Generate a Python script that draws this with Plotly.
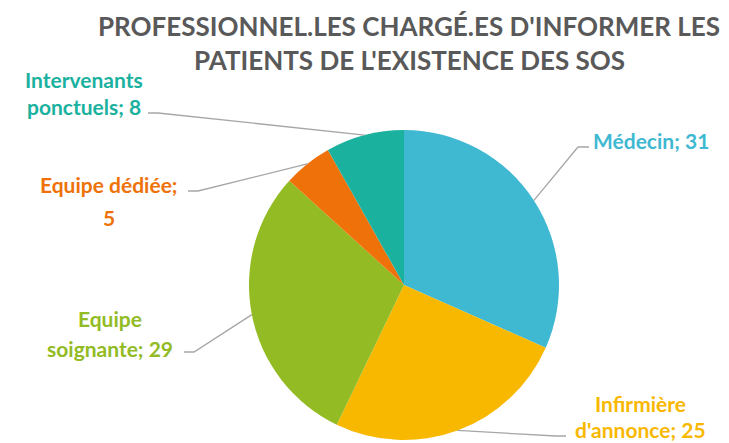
import math
import plotly.graph_objects as go

# ---- data ----
categories = ["Médecin", "Infirmière d'annonce", "Equipe soignante", "Equipe dédiée", "Intervenants ponctuels"]
values = [31, 25, 29, 5, 8]
colors = ["#3FB8D2", "#F9B800", "#92BB24", "#EE7209", "#1BB19F"]
title_lines = ["PROFESSIONNEL.LES CHARGÉ.ES D'INFORMER LES", "PATIENTS DE L'EXISTENCE DES SOS"]

# ---- layout (pixels) ----
W, H = 729, 443
CX, CY, R = 404, 285, 155
FONT = "Lato"

# label line splits (where the text breaks) and positions of each line
label_breaks = [None, "Infirmière|d'annonce; {v}", "Equipe|soignante; {v}", "Equipe dédiée;|{v}", "Intervenants|ponctuels; {v}"]
label_pos = [
    [(651, 141)],
    [(640, 403), (640, 429)],
    [(110, 318), (110, 348)],
    [(109, 184), (109, 217)],
    [(84, 80), (84, 107)],
]
# leader line: elbow point then end point (near label)
leader_pts = [
    [(578, 147), (589, 147)],
    [(556, 436), (566, 436)],
    [(194, 352), (184, 352)],
    [(198, 191), (188, 191)],
    [(158, 113), (148, 113)],
]

def px(x):
    return x / W

def py(y):
    return 1 - y / H

fig = go.Figure()
fig.add_trace(go.Pie(
    values=values, labels=categories,
    marker=dict(colors=colors, line=dict(width=0)),
    sort=False, direction="clockwise", rotation=0,
    textinfo="none", hoverinfo="label+value", showlegend=False,
    domain=dict(x=[px(CX - R), px(CX + R)], y=[py(CY + R), py(CY - R)]),
))

total = sum(values)
annotations = []
shapes = []
cum = 0
for i, (cat, v) in enumerate(zip(categories, values)):
    mid = (cum + v / 2) / total * 2 * math.pi
    cum += v
    ex = CX + R * math.sin(mid)
    ey = CY - R * math.cos(mid)
    pts = [(ex, ey)] + leader_pts[i]
    path = "M " + " L ".join(f"{px(a)},{py(b)}" for a, b in pts)
    shapes.append(dict(type="path", path=path, xref="paper", yref="paper",
                       line=dict(color="#A6A6A6", width=1.3)))
    if label_breaks[i] is None:
        lines = [f"{cat}; {v}"]
    else:
        lines = label_breaks[i].format(v=v).split("|")
    for txt, (lx, ly) in zip(lines, label_pos[i]):
        annotations.append(dict(text=f"<b>{txt}</b>", x=px(lx), y=py(ly), xref="paper", yref="paper",
                                xanchor="center", yanchor="middle", showarrow=False,
                                font=dict(family=FONT, size=21, color=colors[i])))

for txt, ty in zip(title_lines, [26, 60]):
    annotations.append(dict(text=f"<b>{txt}</b>", x=px(409), y=py(ty), xref="paper", yref="paper",
                            xanchor="center", yanchor="middle", showarrow=False,
                            font=dict(family=FONT, size=26, color="#595959")))

fig.update_layout(
    width=W, height=H,
    margin=dict(l=0, r=0, t=0, b=0),
    paper_bgcolor="white", plot_bgcolor="white",
    annotations=annotations, shapes=shapes,
)

fig.write_html("out.html", config={"displayModeBar": False},
               post_script="document.body.style.margin='0px';")
